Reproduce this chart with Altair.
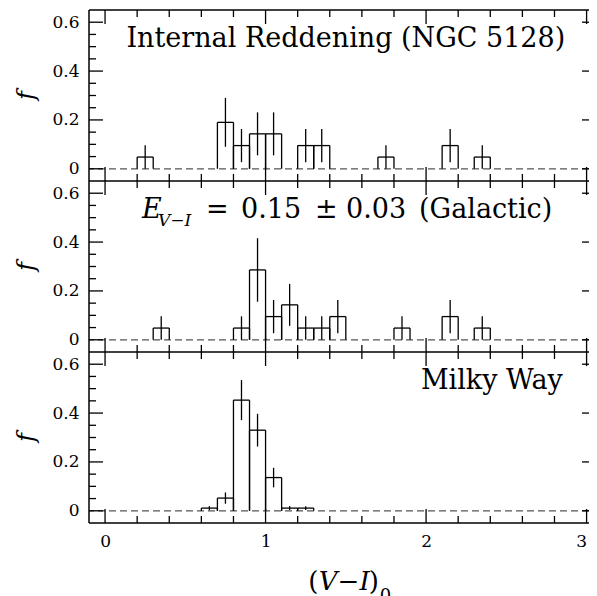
import altair as alt
import pandas as pd

# ---------------- data ----------------
# bin lower edges (bin width 0.1), fraction f and error bar half-length
ngc_lo = [0.2, 0.7, 0.8, 0.9, 1.0, 1.2, 1.3, 1.7, 2.1, 2.3]
ngc_f = [0.048, 0.190, 0.095, 0.143, 0.143, 0.095, 0.095, 0.048, 0.095, 0.048]
ngc_e = [0.048, 0.100, 0.068, 0.088, 0.088, 0.068, 0.068, 0.048, 0.068, 0.048]

gal_lo = [0.3, 0.8, 0.9, 1.0, 1.1, 1.2, 1.3, 1.4, 1.8, 2.1, 2.3]
gal_f = [0.048, 0.048, 0.286, 0.095, 0.143, 0.048, 0.048, 0.095, 0.048, 0.095, 0.048]
gal_e = [0.048, 0.048, 0.130, 0.068, 0.086, 0.048, 0.048, 0.068, 0.048, 0.068, 0.048]

mw_lo = [0.6, 0.7, 0.8, 0.9, 1.0, 1.1, 1.2]
mw_f = [0.011, 0.052, 0.453, 0.330, 0.136, 0.011, 0.011]
mw_e = [0.008, 0.023, 0.082, 0.067, 0.040, 0.008, 0.008]

BIN_W = 0.1

x_major = [0, 1, 2, 3]
x_minor = [0.2, 0.4, 0.6, 0.8, 1.2, 1.4, 1.6, 1.8, 2.2, 2.4, 2.6, 2.8]
y_major = [0.0, 0.2, 0.4, 0.6]
y_minor = [0.05, 0.10, 0.15, 0.25, 0.30, 0.35, 0.45, 0.50, 0.55]

PANEL_DOM = [-0.05, 0.65]          # y range of each panel
XDOM = [-0.1, 3.015]

# ---------------- layout / style ----------------
W, H = 500, 513
FONT = "DejaVu Serif"
MAJ, MIN = 14, 7
LW = 1.3
FW = 1.5
TS = 27

span = PANEL_DOM[1] - PANEL_DOM[0]
offsets = [2 * span, span, 0.0]            # top, middle, bottom panel
YDOM = [PANEL_DOM[0], PANEL_DOM[0] + 3 * span]

xs = alt.Scale(domain=XDOM, nice=False, zero=False)
ys = alt.Scale(domain=YDOM, nice=False, zero=False)

# ---------------- tables ----------------
rows = []
for lo, f, e, off in ((ngc_lo, ngc_f, ngc_e, offsets[0]),
                      (gal_lo, gal_f, gal_e, offsets[1]),
                      (mw_lo, mw_f, mw_e, offsets[2])):
    d = pd.DataFrame({"lo": lo, "f": f, "e": e})
    d["hi"] = d["lo"] + BIN_W
    d["c"] = d["lo"] + BIN_W / 2
    d["z"] = off
    d["fo"] = d["f"] + off
    d["elo"] = (d["f"] - d["e"]).clip(lower=0) + off
    d["ehi"] = d["f"] + d["e"] + off
    rows.append(d)
hist = pd.concat(rows, ignore_index=True)

ymaj_all = [round(v + off, 4) for off in offsets for v in y_major]
ymin_all = [round(v + off, 4) for off in offsets for v in y_minor]
bounds = [round(PANEL_DOM[0] + k * span, 4) for k in range(4)]

xaxis = alt.Axis(values=x_major, format="d", labelFont=FONT, labelFontSize=17,
                 labelPadding=10, domain=False, ticks=False, grid=False,
                 title=None, labelColor="black",
                 labelAlign={"condition": {"test": "datum.value == 3", "value": "right"},
                             "value": "center"})
yaxis = alt.Axis(values=ymaj_all,
                 labelExpr="(round(datum.value*10) % 7) == 0 ? '0' : format((round(datum.value*10) % 7)/10, '.1f')",
                 labelFont=FONT, labelFontSize=17, labelPadding=10, labelColor="black",
                 domain=False, ticks=False, grid=False, title=None)


def X(field):
    return alt.X(field, scale=xs, axis=xaxis)


def Y(field):
    return alt.Y(field, scale=ys, axis=yaxis)


rule = dict(color="black", strokeWidth=LW)
layers = []

# dashed zero lines
layers.append(alt.Chart(pd.DataFrame({"z": offsets})).mark_rule(
    color="#555555", strokeDash=[7, 4], strokeWidth=LW).encode(y=Y("z:Q")))

# histograms and error bars
base = alt.Chart(hist)
layers += [
    base.mark_rule(**rule).encode(x=X("lo:Q"), x2="hi:Q", y=Y("fo:Q")),
    base.mark_rule(**rule).encode(x=X("lo:Q"), y=Y("z:Q"), y2="fo:Q"),
    base.mark_rule(**rule).encode(x=X("hi:Q"), y=Y("z:Q"), y2="fo:Q"),
    base.mark_rule(**rule).encode(x=X("c:Q"), y=Y("elo:Q"), y2="ehi:Q"),
]

# frame: panel borders and left edge (right edge lies beyond the cropped view)
layers.append(alt.Chart(pd.DataFrame({"b": bounds})).mark_rule(
    color="black", strokeWidth=FW).encode(y=Y("b:Q")))
layers.append(alt.Chart(pd.DataFrame({"k": [0]})).mark_rule(
    color="black", strokeWidth=FW).encode(x=alt.value(0), y=alt.value(0), y2=alt.value(H)))

# x ticks (inward) at the top and bottom of each panel
for vals, ln in ((x_major, MAJ), (x_minor, MIN)):
    for yb, sgn in ((bounds[1:], 1), (bounds[:-1], -1)):
        d = pd.DataFrame([(v, b) for v in vals for b in yb], columns=["v", "b"])
        layers.append(alt.Chart(d).mark_rule(y2Offset=sgn * ln, **rule).encode(
            x=X("v:Q"), y=Y("b:Q"), y2="b:Q"))

# y ticks (inward) on the left, major ticks on the right
for vals, ln in ((ymaj_all, MAJ), (ymin_all, MIN)):
    layers.append(alt.Chart(pd.DataFrame({"v": vals})).mark_rule(**rule).encode(
        y=Y("v:Q"), x=alt.value(0), x2=alt.value(ln)))
layers.append(alt.Chart(pd.DataFrame({"v": ymaj_all})).mark_rule(**rule).encode(
    y=Y("v:Q"), x=alt.value(W - 7), x2=alt.value(W)))

# y titles "f"
layers.append(alt.Chart(pd.DataFrame({"t": ["f"] * 3, "y": [0.3 + o for o in offsets]}))
              .mark_text(font=FONT, fontSize=24, fontStyle="italic", angle=270,
                         align="center", baseline="middle", color="black")
              .encode(x=alt.value(-62), y=Y("y:Q"), text="t:N"))


def txt(t, xv, yv, dx=0, dy=0, size=TS, style="normal", align="center", ypix=None):
    enc = dict(x=X("xv:Q"), text="t:N")
    enc["y"] = alt.value(ypix) if ypix is not None else Y("yv:Q")
    return (alt.Chart(pd.DataFrame({"t": [t], "xv": [xv], "yv": [yv]}))
            .mark_text(font=FONT, fontSize=size, fontStyle=style, align=align,
                       baseline="alphabetic", dx=dx, dy=dy, color="black")
            .encode(**enc))


yg = 0.5 + offsets[1]
layers += [
    txt("Internal Reddening (NGC 5128)", 1.5, 0.5 + offsets[0]),
    # E_{V-I} = 0.15 ± 0.03 (Galactic), pieces anchored at x = 0
    txt("E", 0, yg, dx=37, style="italic", align="left"),
    txt("V\u2212I", 0, yg, dx=53, dy=8, size=17, style="italic", align="left"),
    txt("=", 0, yg, dx=101, align="left"),
    txt("0.15", 0, yg, dx=136, align="left"),
    txt("\u00b1", 0, yg, dx=210, align="left"),
    txt("0.03", 0, yg, dx=241, align="left"),
    txt("(Galactic)", 0, yg, dx=314, align="left"),
    txt("Milky Way", 2.41, 0.5 + offsets[2]),
    # x-axis title (V-I)_0
    txt("(", 1.5, 0, dx=-37.5, size=26, align="left", ypix=H + 67),
    txt("V\u2212I", 1.5, 0, dx=-27, size=26, style="italic", align="left", ypix=H + 67),
    txt(")", 1.5, 0, dx=23, size=26, align="left", ypix=H + 67),
    txt("0", 1.5, 0, dx=34, size=18, align="left", ypix=H + 79),
]

chart = alt.layer(*layers).properties(
    width=W, height=H,
    autosize=alt.AutoSizeParams(type="none"),
    padding={"left": 81, "top": 2, "right": 0, "bottom": 73},
    background="white",
).configure_view(stroke=None)

chart.save("out.html", embed_options={"renderer": "svg", "actions": False})
